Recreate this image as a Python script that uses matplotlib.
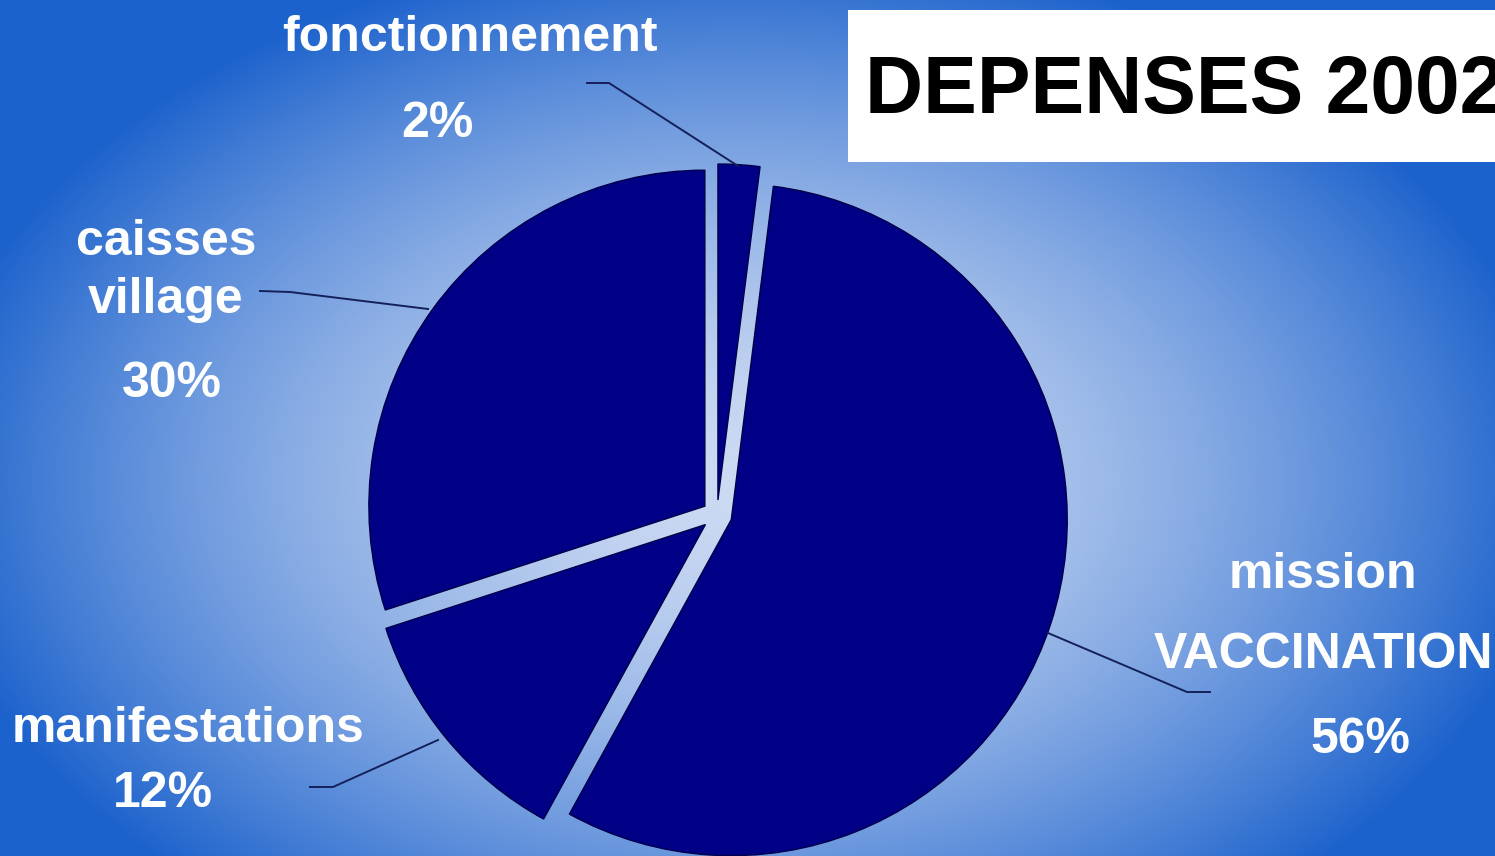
#!/usr/bin/env python3
"""
Pie chart of the 2002 expenses (DEPENSES 2002) on a blue radial background.
"""

import numpy as np
import matplotlib
matplotlib.use('Agg')
import matplotlib.pyplot as plt
from matplotlib.patches import Rectangle

W, H = 1495, 856

# Slices, clockwise from 12 o'clock
categories = ['fonctionnement', 'mission\nVACCINATION', 'manifestations', 'caisses\nvillage']
values = [2, 56, 12, 30]

TITLE = 'DEPENSES 2002'

# Label layout in image pixels: (x of name, baseline of first name line, line step,
#                                x of percentage, baseline of percentage)
label_pos = [
    (470, 51, 0, 437, 137),
    (1323, 588, 80, 1360, 753),
    (188, 742, 0, 163, 807),
    (166, 255, 58, 172, 397),
]
# Leader lines in image pixels
leaders = [
    [(587, 83), (609, 83), (738, 166)],
    [(1048, 633), (1187, 692), (1210, 692)],
    [(310, 787), (333, 787), (438, 740)],
    [(260, 291), (290, 292), (428, 309)],
]

NAVY = '#000087'
LIGHT = np.array([204, 218, 243]) / 255
BLUE = np.array([28, 98, 204]) / 255


def Y(y):
    """ image row -> data y """
    return H - y


def background():
    """ Elliptic radial gradient, light in the middle, blue at the edges """
    xx, yy = np.meshgrid(np.arange(W), np.arange(H))
    t = np.sqrt(((xx - 740) / 820.0) ** 2 + ((yy - 480) / 540.0) ** 2)
    f = np.clip(t, 0, 1) ** 1.6
    img = LIGHT[None, None, :] * (1 - f[..., None]) + BLUE[None, None, :] * f[..., None]
    return img


def main():
    plt.rcParams['font.family'] = ['Liberation Sans', 'DejaVu Sans']

    fig = plt.figure(figsize=(W / 100, H / 100), dpi=100)
    ax = fig.add_axes([0, 0, 1, 1])

    ax.imshow(background(), extent=(0, W, 0, H), origin='upper', zorder=0)

    # The pie itself, every slice pushed out a little so the background shows in between
    ax.pie(values, startangle=90, counterclock=False,
           center=(717, Y(515)), radius=336, explode=[15] * len(values),
           colors=[NAVY] * len(values),
           wedgeprops=dict(edgecolor='#00004a', linewidth=1.0, zorder=2))

    # Title box
    ax.add_patch(Rectangle((848, Y(162)), 700, 152, facecolor='white',
                           edgecolor='none', zorder=3))
    ax.text(865, Y(113), TITLE, fontsize=58, fontweight='bold', color='black',
            ha='left', va='baseline', zorder=4)

    # Labels and leader lines
    for name, v, pos, pts in zip(categories, values, label_pos, leaders):
        nx, ny, step, px, py = pos
        for i, line in enumerate(name.split('\n')):
            ax.text(nx, Y(ny + i * step), line, fontsize=36, fontweight='bold',
                    color='white', ha='center', va='baseline', zorder=4)
        ax.text(px, Y(py), '{}%'.format(v), fontsize=36, fontweight='bold',
                color='white', ha='center', va='baseline', zorder=4)
        xs = [p[0] for p in pts]
        ys = [Y(p[1]) for p in pts]
        ax.plot(xs, ys, color='#14205a', linewidth=1.4, zorder=3)

    ax.set_xlim(0, W)
    ax.set_ylim(0, H)
    ax.set_aspect('auto')
    ax.axis('off')

    fig.savefig('out.png', dpi=100)


if __name__ == '__main__':
    main()
